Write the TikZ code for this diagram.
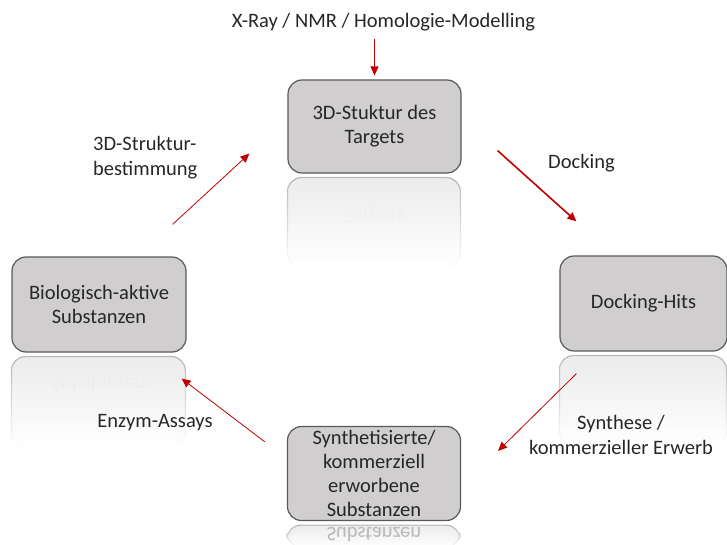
\documentclass[tikz,border=0pt]{standalone}
\usepackage{fontspec}
\setmainfont{Carlito}
\usepackage{tikz}
\usetikzlibrary{arrows.meta,positioning,calc,fadings}
\definecolor{boxgray}{RGB}{208,206,206}
\definecolor{boxline}{RGB}{89,89,89}
\definecolor{darkred}{RGB}{192,0,0}
\definecolor{textgray}{RGB}{38,38,38}
\tikzfading[name=refl, top color=transparent!60, middle color=transparent!95, bottom color=transparent!100]

\begin{document}
\begin{tikzpicture}[x=1pt,y=-1pt]
    % Define node styles
    \tikzstyle{stage} = [rectangle, rounded corners=14pt, draw=boxline, line width=1.2pt, fill=boxgray, text=textgray, align=center, font=\fontsize{20.5}{23.8}\selectfont, minimum width=173pt, minimum height=93pt, inner sep=0pt]
    \tikzstyle{annot} = [text=textgray, align=center, font=\fontsize{20.5}{25}\selectfont, inner sep=0pt]
    \tikzstyle{mirror} = [rounded corners=14pt, draw=boxline, line width=1.2pt, fill=boxgray, path fading=refl]
    \tikzstyle{mirrortext} = [annot, yscale=-1]
    \tikzstyle{arrow} = [darkred, line width=0.8pt, -{Triangle[length=9pt,width=8pt]}]

    \useasboundingbox (0,0) rectangle (727,545);

    % Stages
    \node[stage] (target) at (374.5,126.5) {3D-Stuktur des\\Targets};
    \node[stage, minimum width=167pt, minimum height=95pt] (dock) at (643.5,303.5) {Docking-Hits};
    \node[stage, minimum height=94pt] (synth) at (374,473.5) {Synthetisierte/\\kommerziell\\erworbene\\Substanzen};
    \node[stage, minimum width=174pt, minimum height=95pt] (bio) at (99,304.5) {Biologisch-aktive\\Substanzen};

    % Reflections
    \path[mirror] ($(target.south west)+(0,4)$) rectangle ++(173,90);
    \path[mirror] ($(dock.south west)+(0,4)$) rectangle ++(167,90);
    \path[mirror] ($(bio.south west)+(0,4)$) rectangle ++(174,90);
    \path[mirror] ($(synth.south west)+(0,4)$) rectangle ++(173,22);
    \node[mirrortext, text=gray!12] (targetm) at (374.5,214) {Targets};
    \node[mirrortext, text=gray!14] (biom) at (99,386) {Substanzen};
    \node[mirrortext, text=gray!55] (synthm) at (374,535) {Substanzen};

    % Labels
    \node[annot] (xray) at (383.5,22) {X-Ray / NMR / Homologie-Modelling};
    \node[annot, align=left, anchor=west] (struct) at (93,158) {3D-Struktur-\\bestimmung};
    \node[annot] (docklbl) at (581.5,163) {Docking};
    \node[annot] (synthlbl) at (621,435) {Synthese /\\kommerzieller Erwerb};
    \node[annot] (enzym) at (155,423) {Enzym-Assays};

    % Arrows
    \draw[arrow] (xray.south -| target.north) ++(0,8) -- ($(target.north)+(0,-4)$);
    \draw[arrow, line width=1.6pt] ($(target.south east)+(36,-23)$) -- ($(dock.north west)+(17,-34)$);
    \draw[arrow] ($(dock.south west)+(17,22)$) -- ($(synth.north east)+(37,25)$);
    \draw[arrow] ($(synth.north west)+(-22,16)$) -- ($(bio.south east)+(-5,26)$);
    \draw[arrow] ($(bio.north east)+(-14,-32)$) -- ($(target.south west)+(-38,-20)$);
\end{tikzpicture}
\end{document}
